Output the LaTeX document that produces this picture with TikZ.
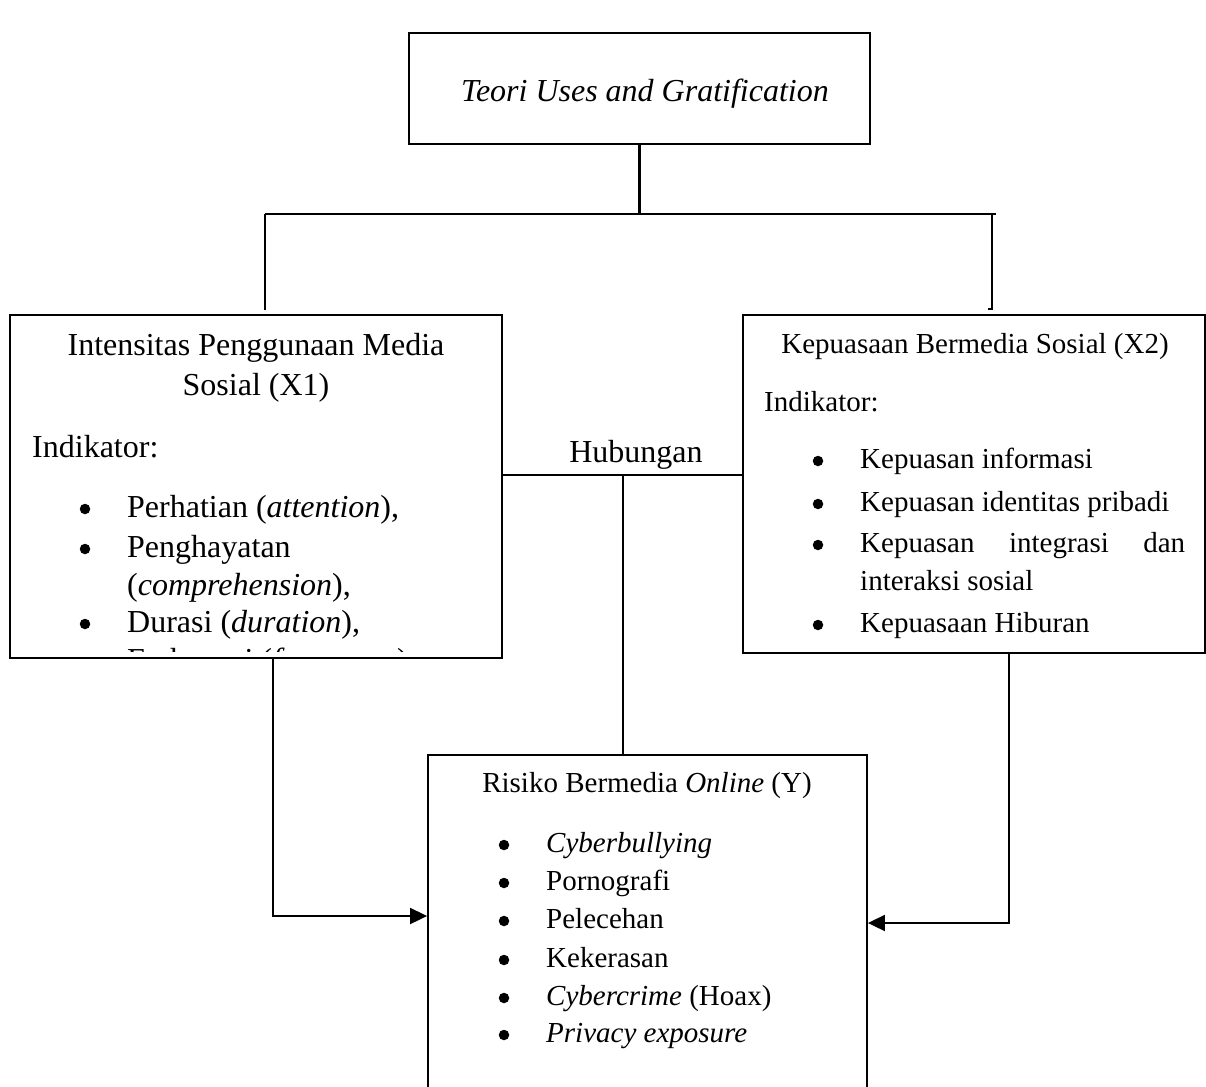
\documentclass[tikz,border=0pt]{standalone}
\usepackage{fontspec}
\setmainfont{Liberation Serif}
\usetikzlibrary{arrows.meta}

\newcommand{\bigtxt}{\fontsize{32}{40}\selectfont}
\newcommand{\midtxt}{\fontsize{29}{38}\selectfont}

\begin{document}
\begin{tikzpicture}[x=1pt,y=-1pt,
    box/.style={draw, rectangle, inner sep=0pt},
    txt/.style={inner sep=0pt, anchor=base west},
    ctr/.style={inner sep=0pt, anchor=base},
    dot/.style={circle, fill, inner sep=0pt, minimum size=10.5pt},
    link/.style={line width=1.8pt},
    arr/.style={line width=1.8pt, -{Triangle[length=17pt,width=16pt]}}]
    \useasboundingbox (0,0) rectangle (1206,1086);
    \clip (0,0) rectangle (1206,1086);

    % Draw boxes
    \node[box, line width=2.6pt, minimum width=461pt, minimum height=111pt] (teori) at (639.5,88.5) {};
    \node[box, line width=2.6pt, minimum width=492pt, minimum height=343pt] (x1) at (256,486.5) {};
    \node[box, line width=1.8pt, minimum width=462pt, minimum height=338pt] (x2) at (974,484) {};
    \node[box, line width=1.8pt, minimum width=439pt, minimum height=345pt] (risiko) at (647.5,927.5) {};

    % Top box text
    \node[ctr] (tteori) at (645,102) {\bigtxt\itshape Teori Uses and Gratification};

    % Left box text, cut off at the bottom
    \begin{scope}
        \clip (x1.north west) rectangle (502,651);
        \node[ctr] (t1a) at (256,355) {\bigtxt Intensitas Penggunaan Media};
        \node[ctr] (t1b) at (256,395) {\bigtxt Sosial (X1)};
        \node[txt] (i1) at (32,457) {\bigtxt Indikator:};
        \foreach \yy/\tt [count=\k] in {517/{Perhatian (\textit{attention}),},
                557/{Penghayatan},
                595/{(\textit{comprehension}),},
                632/{Durasi (\textit{duration}),},
                670/{Frekuensi (\textit{frequency}),}} {
            \node[txt] (a\k) at (127,\yy) {\bigtxt\tt};
        }
        \foreach \yy in {517,557,632,670}
            \node[dot] at (85,\yy-8) {};
    \end{scope}

    % Right box text
    \node[ctr] (t2) at (975,353) {\midtxt Kepuasaan Bermedia Sosial (X2)};
    \node[txt] (i2) at (764,411) {\midtxt Indikator:};
    \node[txt] (b1) at (860,468) {\midtxt Kepuasan informasi};
    \node[txt] (b2) at (860,511) {\midtxt Kepuasan identitas pribadi};
    \node[txt] (b3) at (860,552) {\midtxt\makebox[325pt][s]{Kepuasan integrasi dan}};
    \node[txt] (b4) at (860,590) {\midtxt interaksi sosial};
    \node[txt] (b5) at (860,632) {\midtxt Kepuasaan Hiburan};
    \foreach \yy in {468,511,552,632}
        \node[dot] at (818,\yy-7) {};

    % Bottom box text
    \node[ctr] (t3) at (647,792) {\midtxt Risiko Bermedia \textit{Online} (Y)};
    \foreach \yy/\tt [count=\k] in {852/{\textit{Cyberbullying}},
            890/{Pornografi},
            928/{Pelecehan},
            967/{Kekerasan},
            1005/{\textit{Cybercrime} (Hoax)},
            1042/{\textit{Privacy exposure}}} {
        \node[txt] (c\k) at (546,\yy) {\midtxt\tt};
        \node[dot] at (504,\yy-7) {};
    }

    % Draw branch lines from the theory box
    \coordinate (split) at (teori.south |- 0,214);
    \coordinate (lsplit) at (265,214);
    \coordinate (rsplit) at (992,214);
    \coordinate (ldrop) at (265,310);
    \coordinate (rdrop) at (992,309);
    \draw[line width=2.4pt] (teori.south) -- (split);
    \draw[link] (lsplit) -- (rsplit) -- ++(4,0);
    \draw[link] (lsplit) -- (ldrop);
    \draw[link] (rsplit) -- (rdrop) -- ++(-4,0);

    % Draw relation line
    \coordinate (hl) at (x1.east |- 0,475);
    \coordinate (hr) at (x2.west |- 0,475);
    \coordinate (hm) at (623,475);
    \draw[link] (hl) -- (hr);
    \node[ctr] (hub) at (636,462) {\bigtxt Hubungan};
    \draw[link] (hm) -- (hm |- risiko.north);

    % Draw arrows into the risk box
    \coordinate (x1out) at (273,0 |- x1.south);
    \coordinate (x2out) at (1009,0 |- x2.south);
    \draw[arr] (x1out) |- (risiko.west |- 0,916);
    \draw[arr] (x2out) |- (risiko.east |- 0,923);
\end{tikzpicture}
\end{document}
